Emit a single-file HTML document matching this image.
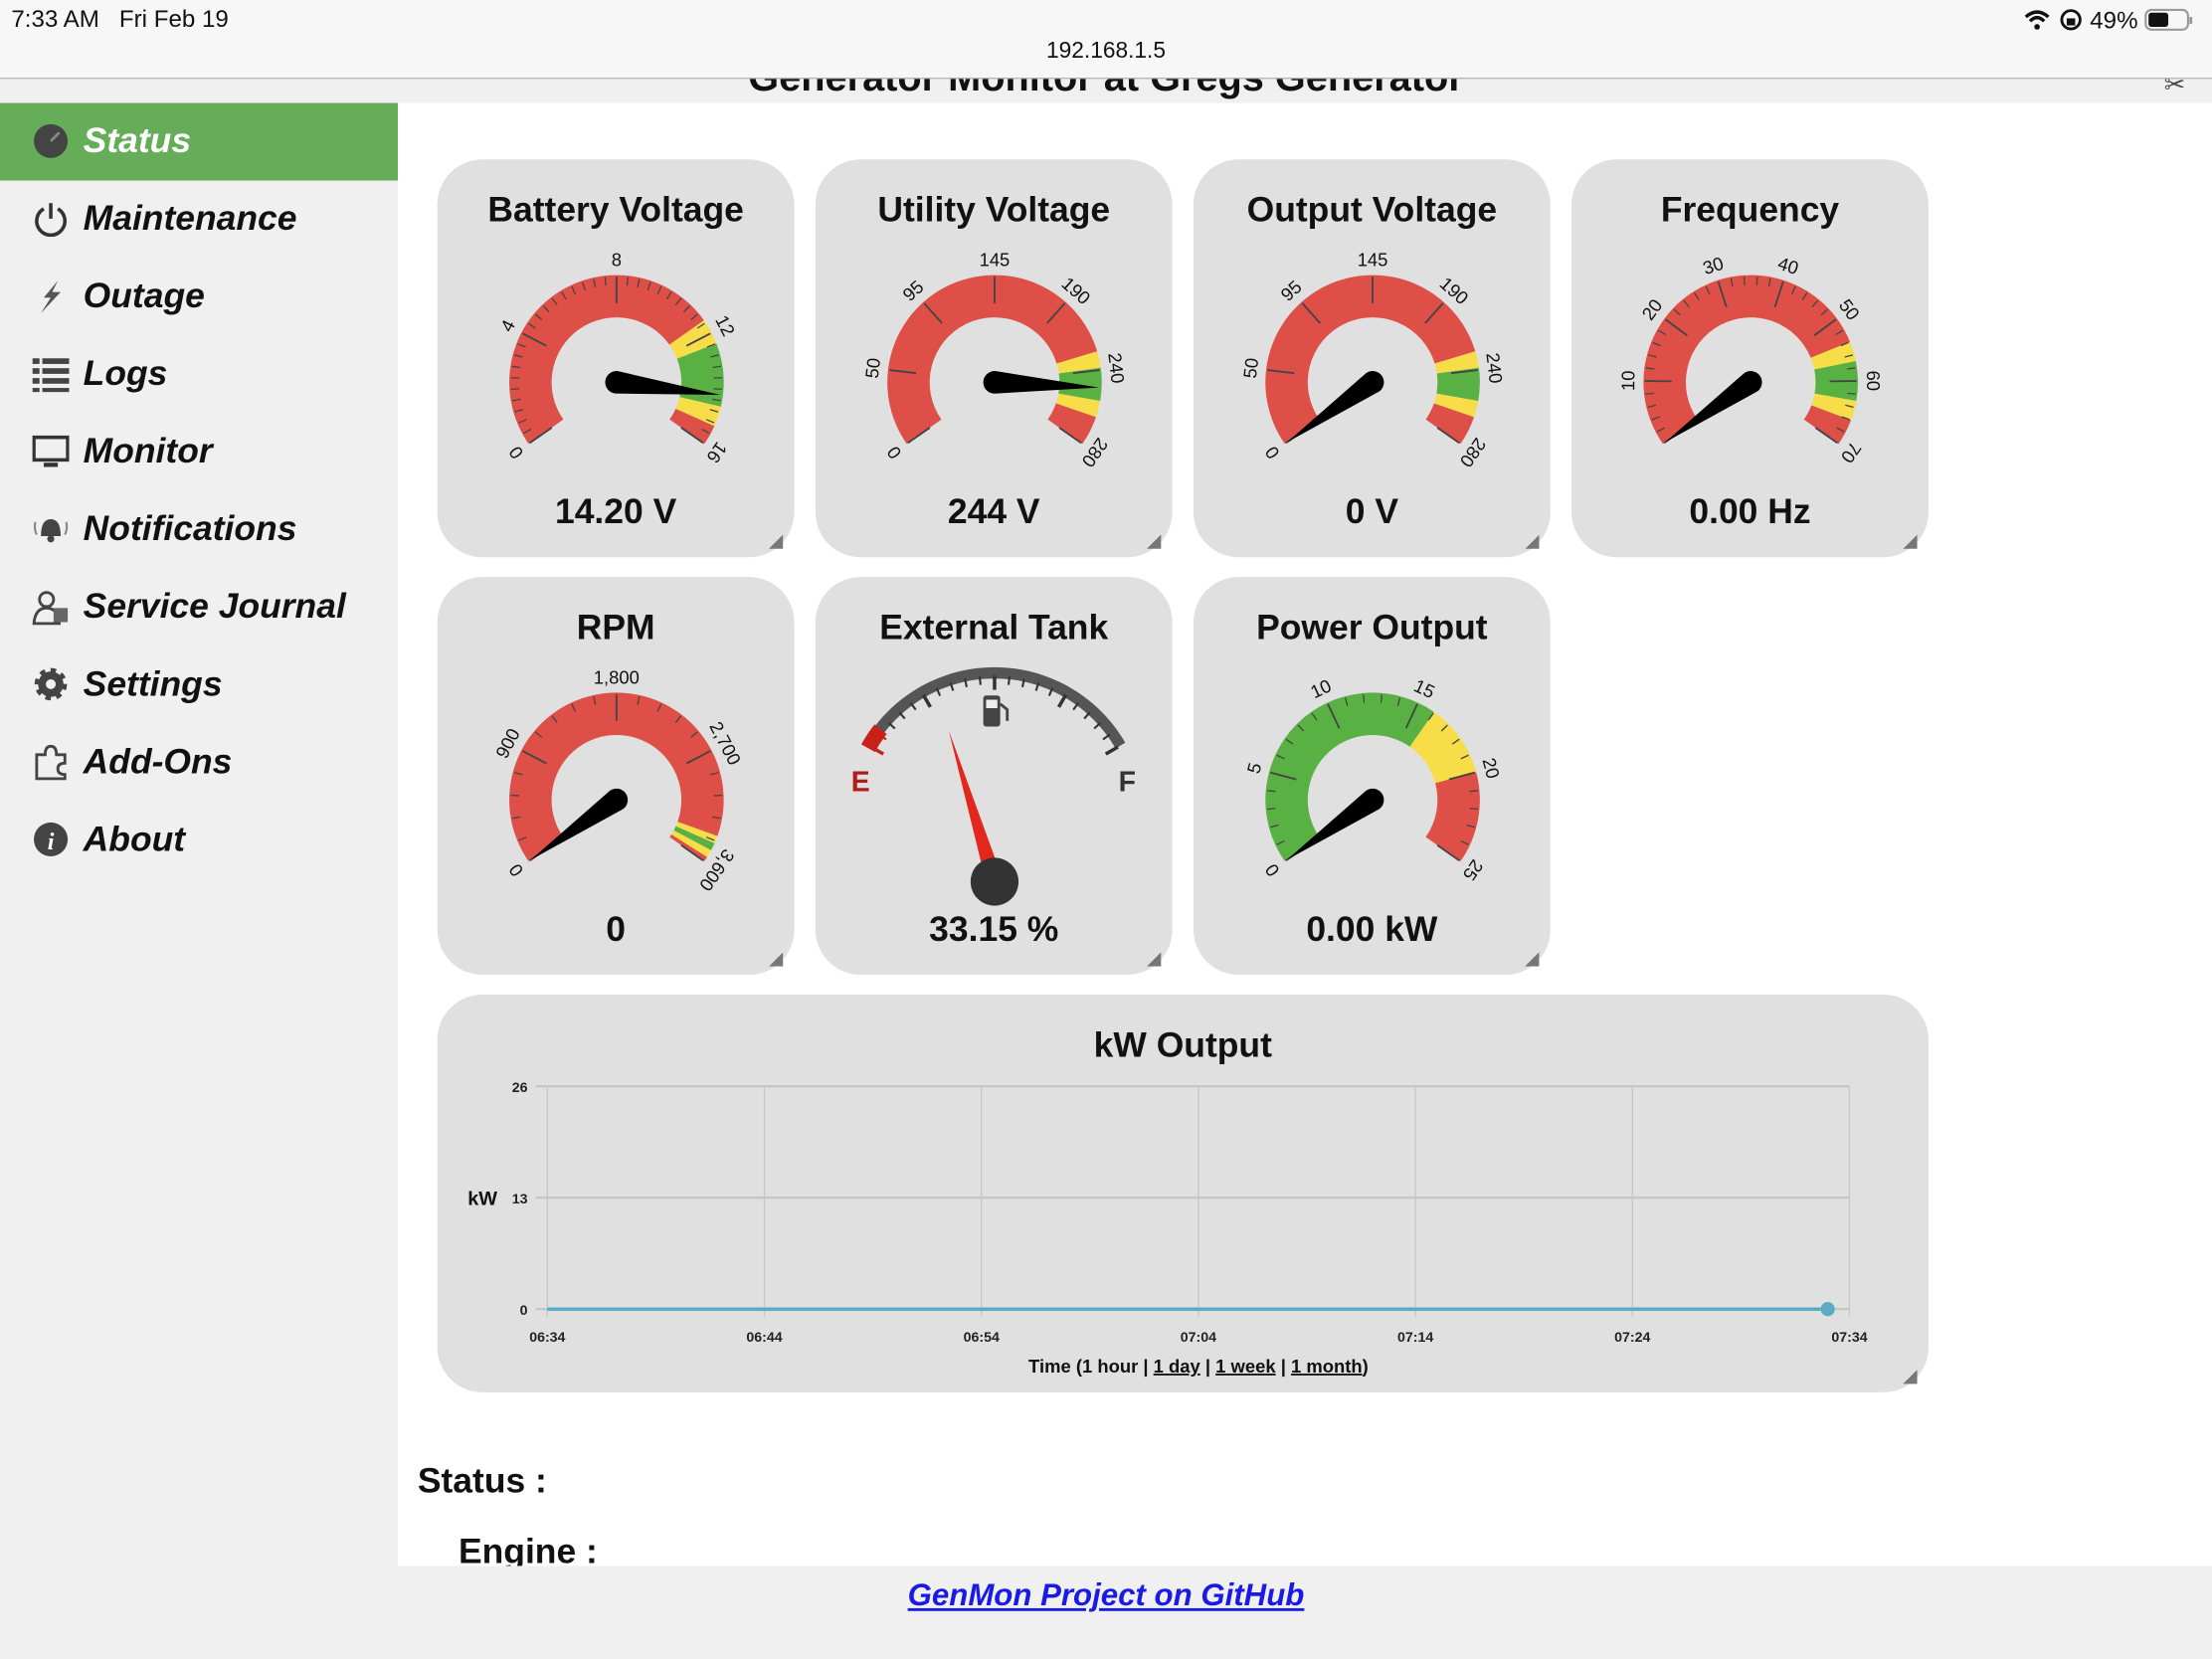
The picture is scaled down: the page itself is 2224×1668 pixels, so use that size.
<!DOCTYPE html>
<html><head><meta charset="utf-8">
<style>
html,body{margin:0;padding:0;width:2224px;height:1668px;overflow:hidden;background:#fff;font-family:"Liberation Sans",Arial,sans-serif;}
#page{position:absolute;left:0;top:0;width:1568px;height:1176px;transform:scale(1.41837);transform-origin:0 0;background:#fff;}
.abs{position:absolute;}
.statusbar{left:0;top:0;width:1568px;height:55px;background:#f7f7f7;border-bottom:1px solid #b5b5b5;}
.hdr{left:0;top:56px;width:1568px;height:17px;background:#f0f0f0;overflow:hidden;}
.side{left:0;top:73px;width:282px;height:1037px;background:#f0f0f0;}
.mi{position:absolute;left:0;width:282px;height:55px;font-weight:bold;font-style:italic;font-size:25px;color:#111;}
.mi span.t{position:absolute;left:59px;top:13px;}
.mi .ic{position:absolute;left:23px;top:14px;width:26px;height:26px;}
.card{position:absolute;background:#e0e0e0;border-radius:32px;}
.card .title{position:absolute;left:0;width:100%;text-align:center;top:22px;font-weight:bold;font-size:25px;color:#111;}
.card .val{position:absolute;left:0;width:100%;text-align:center;top:236px;font-weight:bold;font-size:25px;color:#111;}
.card svg.g{position:absolute;left:0;top:0;}
.grip{position:absolute;right:8px;bottom:6px;width:10px;height:10px;background:linear-gradient(135deg,transparent 50%,#777 50%);}
.foot{left:0;top:1110px;width:1568px;height:66px;background:#f0f0f0;}
</style></head><body>
<div id="page">
  <div class="abs statusbar">
    <div class="abs" style="left:8px;top:4px;font-size:17px;color:#111">7:33 AM&nbsp;&nbsp;&nbsp;Fri Feb 19</div>
    <div class="abs" style="left:0;width:1568px;text-align:center;top:28px;font-size:16px;color:#111">192.168.1.5</div>
    <div class="abs" style="left:1434px;top:5px;font-size:17px;color:#111">
      <svg width="20" height="16" style="vertical-align:-2px"><path d="M2 6 Q10 -1 18 6" stroke="#111" stroke-width="2.4" fill="none"/><path d="M5 9 Q10 4 15 9" stroke="#111" stroke-width="2.4" fill="none"/><circle cx="10" cy="13" r="2" fill="#111"/></svg>
      <svg width="18" height="16" style="vertical-align:-2px"><circle cx="9" cy="8" r="6.5" stroke="#111" stroke-width="2" fill="none"/><rect x="6" y="7" width="6" height="5" fill="#111"/></svg>
      49%
      <svg width="36" height="18" style="vertical-align:-3px"><rect x="1" y="2" width="30" height="14" rx="4" stroke="#999" stroke-width="1.5" fill="none"/><rect x="3" y="4" width="14" height="10" rx="2" fill="#111"/><rect x="32" y="7" width="2" height="5" fill="#999"/></svg>
    </div>
  </div>
  <div class="abs hdr">
    <div class="abs" style="left:0;width:1568px;text-align:center;top:-17px;font-weight:bold;font-size:28px;color:#111">Generator Monitor at Gregs Generator</div>
    <div class="abs" style="left:1534px;top:-6px;width:22px;height:18px;font-size:18px;color:#444">✂</div>
  </div>
  <div class="abs side">
    <div class="mi" style="top:0;background:#66ad5a;color:#fff"><svg class="ic" viewBox="0 0 26 26"><circle cx="13" cy="13" r="12" fill="#444"/><path d="M13 13 L19 7" stroke="#888" stroke-width="2"/></svg><span class="t">Status</span></div>
    <div class="mi" style="top:55px"><svg class="ic" viewBox="0 0 26 26"><path d="M8 6 A10 10 0 1 0 18 6" stroke="#333" stroke-width="2.5" fill="none"/><line x1="13" y1="2" x2="13" y2="13" stroke="#333" stroke-width="2.5"/></svg><span class="t">Maintenance</span></div>
    <div class="mi" style="top:110px"><svg class="ic" viewBox="0 0 26 26"><path d="M18 2 L8 14 L13 14 L6 25 L20 10 L14 10 Z" fill="#555"/></svg><span class="t">Outage</span></div>
    <div class="mi" style="top:165px"><svg class="ic" viewBox="0 0 26 26"><g fill="#444"><rect x="0" y="2" width="5" height="4"/><rect x="7" y="2" width="19" height="4"/><rect x="0" y="9" width="5" height="4"/><rect x="7" y="9" width="19" height="4"/><rect x="0" y="16" width="5" height="4"/><rect x="7" y="16" width="19" height="4"/><rect x="0" y="23" width="5" height="3"/><rect x="7" y="23" width="19" height="3"/></g></svg><span class="t">Logs</span></div>
    <div class="mi" style="top:220px"><svg class="ic" viewBox="0 0 26 26"><rect x="1" y="3" width="24" height="16" stroke="#333" stroke-width="2.5" fill="none"/><rect x="8" y="21" width="10" height="3" fill="#333"/></svg><span class="t">Monitor</span></div>
    <div class="mi" style="top:275px"><svg class="ic" viewBox="0 0 26 26"><path d="M6 18 Q6 6 13 6 Q20 6 20 18 Z" fill="#444"/><circle cx="13" cy="20" r="2.5" fill="#444"/><path d="M2 8 Q1 13 3 17 M24 8 Q25 13 23 17" stroke="#888" stroke-width="1.5" fill="none"/></svg><span class="t">Notifications</span></div>
    <div class="mi" style="top:330px"><svg class="ic" viewBox="0 0 26 26"><circle cx="10" cy="8" r="5" stroke="#444" stroke-width="2" fill="none"/><path d="M1 25 Q2 14 10 14 Q18 14 19 25 Z" stroke="#444" stroke-width="2" fill="none"/><rect x="15" y="14" width="10" height="10" fill="#666"/></svg><span class="t">Service Journal</span></div>
    <div class="mi" style="top:385px"><svg class="ic" viewBox="0 0 26 26"><circle cx="13" cy="13" r="9" fill="#444" stroke="#444" stroke-width="5" stroke-dasharray="3.5 3.5"/><circle cx="13" cy="13" r="3.5" fill="#f0f0f0"/></svg><span class="t">Settings</span></div>
    <div class="mi" style="top:440px"><svg class="ic" viewBox="0 0 26 26"><path d="M3 8 H9 Q9 2 13 2 Q17 2 17 8 H23 V14 Q18 14 18 18 Q18 22 23 22 V25 H3 Z" stroke="#444" stroke-width="2" fill="none"/></svg><span class="t">Add-Ons</span></div>
    <div class="mi" style="top:495px"><svg class="ic" viewBox="0 0 26 26"><circle cx="13" cy="13" r="12" fill="#444"/><text x="13" y="20" font-size="17" font-weight="bold" font-style="italic" fill="#fff" text-anchor="middle" font-family="Liberation Serif,serif">i</text></svg><span class="t">About</span></div>
  </div>

  <div id="cards"></div>

  <div class="card" style="left:310px;top:705px;width:1057px;height:282px">
    <div class="title" style="top:22px">kW Output</div>
    <svg id="chart" width="1057" height="282" style="position:absolute;left:0;top:0"></svg>
    <div class="grip"></div>
  </div>

  <div class="abs" style="left:296px;top:1036px;font-weight:bold;font-size:25px;color:#111">Status :</div>
  <div class="abs" style="left:325px;top:1086px;font-weight:bold;font-size:25px;color:#111">Engine :</div>
  <div class="abs foot">
    <a href="#" style="position:absolute;left:0;width:1568px;text-align:center;top:8px;font-weight:bold;font-style:italic;font-size:22px;color:#1a1ae6;text-decoration:underline">GenMon Project on GitHub</a>
  </div>
</div>

<script>
// ---- gauge data ----
const gaugeTitles = ["Battery Voltage","Utility Voltage","Output Voltage","Frequency","RPM","Power Output"];
const gaugeValues = [14.2, 244, 0, 0, 0, 0];
const gaugeReadouts = ["14.20 V","244 V","0 V","0.00 Hz","0","0.00 kW"];
const gaugeMins = [0,0,0,0,0,0];
const gaugeMaxs = [16,280,280,70,3600,25];
const batteryLabels = ["0","4","8","12","16"];
const utilityLabels = ["0","50","95","145","190","240","280"];
const freqLabels = ["","10","20","30","40","50","60","70"];
const rpmLabels = ["0","900","1,800","2,700","3,600"];
const powerLabels = ["0","5","10","15","20","25"];
const gaugeLabelSets = [batteryLabels, utilityLabels, utilityLabels, freqLabels, rpmLabels, powerLabels];
const gaugeMinorPerMajor = [10,1,1,5,5,5];
const batteryBands = [[0,11.5,"#dd4f47"],[11.5,12.4,"#f7dd47"],[12.4,14.6,"#5ab143"],[14.6,15.3,"#f7dd47"],[15.3,16,"#dd4f47"]];
const voltageBands = [[0,222,"#dd4f47"],[222,232,"#f7dd47"],[232,252,"#5ab143"],[252,262,"#f7dd47"],[262,280,"#dd4f47"]];
const freqBands = [[0,54,"#dd4f47"],[54,57,"#f7dd47"],[57,63,"#5ab143"],[63,66,"#f7dd47"],[66,70,"#dd4f47"]];
const rpmBands = [[0,3380,"#dd4f47"],[3380,3440,"#f7dd47"],[3440,3500,"#5ab143"],[3500,3560,"#f7dd47"],[3560,3600,"#dd4f47"]];
const powerBands = [[0,16,"#5ab143"],[16,20,"#f7dd47"],[20,25,"#dd4f47"]];
const gaugeBandSets = [batteryBands, voltageBands, voltageBands, freqBands, rpmBands, powerBands];
const gaugeCardX = [310,578,846,1114,310,846];
const gaugeCardY = [113,113,113,113,409,409];
// fuel tank
const tankPercent = 33.15;

const NS="http://www.w3.org/2000/svg";
const SWEEP=125;
function pt(cx,cy,r,a){const t=a*Math.PI/180;return [cx+r*Math.sin(t),cy-r*Math.cos(t)];}
function band(cx,cy,r0,r1,a0,a1){
  const p1=pt(cx,cy,r1,a0),p2=pt(cx,cy,r1,a1),p3=pt(cx,cy,r0,a1),p4=pt(cx,cy,r0,a0);
  const lg=(a1-a0)>180?1:0;
  return `M${p1[0]},${p1[1]} A${r1},${r1} 0 ${lg} 1 ${p2[0]},${p2[1]} L${p3[0]},${p3[1]} A${r0},${r0} 0 ${lg} 0 ${p4[0]},${p4[1]} Z`;
}
function el(tag,attrs,parent){const e=document.createElementNS(NS,tag);for(const k in attrs)e.setAttribute(k,attrs[k]);parent.appendChild(e);return e;}

const cardsDiv=document.getElementById('cards');
function makeCard(x,y,title,readout,name){
  const c=document.createElement('div');
  c.className='card';
  c.style.left=x+'px';c.style.top=y+'px';c.style.width='253px';c.style.height='282px';
  
  
  const t=document.createElement('div');t.className='title';t.textContent=title;
  
  
  c.appendChild(t);
  const v=document.createElement('div');v.className='val';v.textContent=readout;
  
  
  c.appendChild(v);
  const g=document.createElement('div');g.className='grip';
  
  
  c.appendChild(g);
  cardsDiv.appendChild(c);
  const s=document.createElementNS(NS,'svg');
  s.setAttribute('class','g');s.setAttribute('width','253');s.setAttribute('height','282');
  
  
  c.insertBefore(s,v);
  return s;
}

for(let i=0;i<gaugeTitles.length;i++){
  const svg=makeCard(gaugeCardX[i],gaugeCardY[i],gaugeTitles[i],gaugeReadouts[i],'gauge-card-'+gaugeTitles[i].toLowerCase().replace(/ /g,'-'));
  const cx=127,cy=158,r0=46,r1=76;
  const mn=gaugeMins[i],mx=gaugeMaxs[i];
  const ang=v=>-SWEEP+2*SWEEP*(v-mn)/(mx-mn);
  gaugeBandSets[i].forEach(b=>{
    const p=el('path',{d:band(cx,cy,r0,r1,ang(b[0]),ang(b[1])),fill:b[2]},svg);
    
    
  });
  const labels=gaugeLabelSets[i];
  const nMaj=labels.length-1, minor=gaugeMinorPerMajor[i];
  for(let k=0;k<=nMaj*minor;k++){
    const a=-SWEEP+2*SWEEP*k/(nMaj*minor);
    const major=k%minor===0;
    const pa=pt(cx,cy,major?r1-20:r1-7,a),pb=pt(cx,cy,r1-1,a);
    const ln=el('line',{x1:pa[0],y1:pa[1],x2:pb[0],y2:pb[1],stroke:'#444','stroke-width':major?1.3:0.9},svg);
    
    
  }
  labels.forEach((lab,k)=>{
    if(!lab)return;
    const a=-SWEEP+2*SWEEP*k/nMaj;
    const p=pt(cx,cy,r1+11,a);
    const tx=el('text',{x:p[0],y:p[1],'font-size':13,'text-anchor':'middle','dominant-baseline':'central',fill:'#111','font-family':'Liberation Sans,sans-serif',transform:`rotate(${a} ${p[0]} ${p[1]})`},svg);
    tx.textContent=lab;
    
    
  });
  const na=ang(gaugeValues[i]);
  const tip=pt(cx,cy,r1-2,na),l=pt(cx,cy,8,na-90),r=pt(cx,cy,8,na+90),back=pt(cx,cy,8,na+180);
  const nd=el('path',{d:`M${l[0]},${l[1]} L${tip[0]},${tip[1]} L${r[0]},${r[1]} A8,8 0 0 1 ${l[0]},${l[1]} Z`,fill:'#000'},svg);
  
  
}

// External tank card
(function(){
  const svg=makeCard(578,409,'External Tank',tankPercent.toFixed(2)+' %','gauge-card-external-tank');
  const cx=127,cy=171,R=107;
  const ap=el('path',{d:band(cx,cy,R-8,R,-60,60),fill:'#555'},svg);
  
  
  const rp=el('path',{d:band(cx,cy,R-10,R+1,-61,-52),fill:'#c8201a'},svg);
  
  
  for(let k=0;k<=20;k++){
    const a=-60+6*k;const maj=k%5===0;
    const pa=pt(cx,cy,R-(maj?16:12),a),pb=pt(cx,cy,R-6,a);
    const ln=el('line',{x1:pa[0],y1:pa[1],x2:pb[0],y2:pb[1],stroke:k<2?'#c8201a':'#333','stroke-width':maj?2.5:1.5},svg);
    
    
  }
  const e=el('text',{x:32,y:152,'font-size':20,'font-weight':'bold',fill:'#b01d17','text-anchor':'middle','font-family':'Liberation Sans,sans-serif'},svg);e.textContent='E';
  
  
  const f=el('text',{x:221,y:152,'font-size':20,'font-weight':'bold',fill:'#333','text-anchor':'middle','font-family':'Liberation Sans,sans-serif'},svg);f.textContent='F';
  
  
  const pump=el('g',{},svg);
  
  
  el('rect',{x:119,y:84,width:12,height:22,rx:2,fill:'#444'},pump);
  el('rect',{x:121,y:87,width:8,height:6,fill:'#eee'},pump);
  el('path',{d:'M131 90 L136 94 L136 102',stroke:'#444','stroke-width':2,fill:'none'},pump);
  const px=127,py=216;
  const a=-50+100*tankPercent/100;
  const tip=pt(px,py,112,a),l=pt(px,py,6,a-90),r=pt(px,py,6,a+90);
  const nd=el('path',{d:`M${l[0]},${l[1]} L${tip[0]},${tip[1]} L${r[0]},${r[1]} Z`,fill:'#e3271c'},svg);
  
  
  const pv=el('circle',{cx:px,cy:py,r:17,fill:'#333'},svg);
  
  
})();

// ---- chart data ----
const timeTicks = ["06:34","06:44","06:54","07:04","07:14","07:24","07:34"];
const yTicks = [0,13,26];
const seriesMinutes = [0,10,20,30,40,50,59];
const seriesKw = [0,0,0,0,0,0,0];
(function(){
  const svg=document.getElementById('chart');
  const X0=78,X1=1001,Y0=223,Y1=65;
  const xs=m=>X0+(X1-X0)*m/60;
  const ys=v=>Y0-(Y0-Y1)*v/26;
  timeTicks.forEach((t,k)=>{
    const x=xs(k*10);
    const g=el('line',{x1:x,y1:Y1,x2:x,y2:Y0+5,stroke:'#c8c8c8','stroke-width':1},svg);
    
    
    const tx=el('text',{x:x,y:Y0+23,'font-size':10,'font-weight':'bold','text-anchor':'middle',fill:'#222','font-family':'Liberation Sans,sans-serif'},svg);
    tx.textContent=t;
    
    
  });
  yTicks.forEach(v=>{
    const y=ys(v);
    const g=el('line',{x1:X0-8,y1:y,x2:X1,y2:y,stroke:'#c4c4c4','stroke-width':1.5},svg);
    
    
    const tx=el('text',{x:X0-14,y:y+4,'font-size':10,'font-weight':'bold','text-anchor':'end',fill:'#222','font-family':'Liberation Sans,sans-serif'},svg);
    tx.textContent=v;
    
    
  });
  const yl=el('text',{x:32,y:ys(13)+5,'font-size':14,'font-weight':'bold','text-anchor':'middle',fill:'#111','font-family':'Liberation Sans,sans-serif'},svg);
  yl.textContent='kW';
  
  
  const d=seriesMinutes.map((m,k)=>(k?'L':'M')+xs(m)+','+ys(seriesKw[k])).join(' ');
  const line=el('path',{d:d,stroke:'#5aabc4','stroke-width':2.5,fill:'none'},svg);
  
  
  const last=seriesMinutes.length-1;
  const dot=el('circle',{cx:xs(seriesMinutes[last]),cy:ys(seriesKw[last]),r:5,fill:'#5aabc4'},svg);
  
  
  const xt=el('text',{x:(X0+X1)/2,y:268,'font-size':13,'font-weight':'bold','text-anchor':'middle',fill:'#111','font-family':'Liberation Sans,sans-serif'},svg);
  xt.innerHTML='Time (1 hour | <tspan text-decoration="underline">1 day</tspan> | <tspan text-decoration="underline">1 week</tspan> | <tspan text-decoration="underline">1 month</tspan>)';
  
  
})();
</script>
</body></html>
